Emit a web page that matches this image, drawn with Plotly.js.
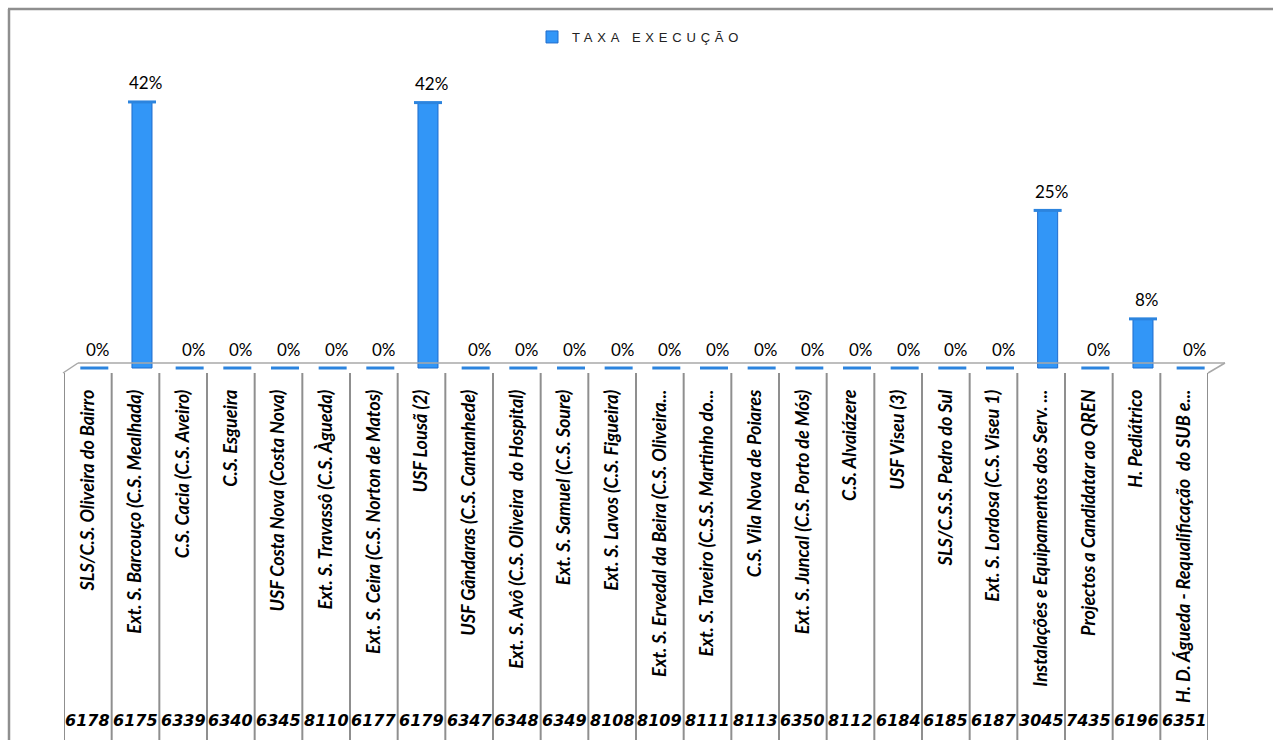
<!DOCTYPE html>
<html><head><meta charset="utf-8">
<script src="https://cdn.plot.ly/plotly-3.0.1.min.js"></script>
<style>html,body{margin:0;padding:0;background:#fff;overflow:hidden}#chart{width:1273px;height:740px}</style>
</head><body><div id="chart"></div>
<script>
// ---- data ----
const codes = ['6178','6175','6339','6340','6345','8110','6177','6179','6347','6348','6349','8108','8109','8111','8113','6350','8112','6184','6185','6187','3045','7435','6196','6351'];
const names = ['SLS/C.S. Oliveira do Bairro','Ext. S. Barcouço (C.S. Mealhada)','C.S. Cacia (C.S. Aveiro)','C.S. Esgueira','USF Costa Nova (Costa Nova)','Ext. S. Travassô (C.S. Àgueda)','Ext. S. Ceira (C.S. Norton de Matos)','USF Lousã (2)','USF Gândaras (C.S. Cantanhede)','Ext. S. Avô (C.S. Oliveira  do Hospital)','Ext. S. Samuel (C.S. Soure)','Ext. S. Lavos (C.S. Figueira)','Ext. S. Ervedal da Beira (C.S. Oliveira...','Ext. S. Taveiro (C.S.S. Martinho do...','C.S. Vila Nova de Poiares','Ext. S. Juncal (C.S. Porto de Mós)','C.S. Alvaiázere','USF Viseu (3)','SLS/C.S.S. Pedro do Sul','Ext. S. Lordosa (C.S. Viseu 1)','Instalações e Equipamentos dos Serv. ...','Projectos a Candidatar ao QREN','H. Pediátrico','H. D. Águeda - Requalificação  do SUB e...'];
const taxaExecucao = [0,0.417,0,0,0,0,0,0.416,0,0,0,0,0,0,0,0,0,0,0,0,0.247,0,0.077,0];
const seriesName = 'TAXA EXECUÇÃO';

// ---- geometry ----
const W=1273,H=740,L=64,R=65,T=60,B=367;
const pw=W-L-R, ph=H-T-B;
const zeroPx=5, pxPerUnit=638;
const yr=[-zeroPx/pxPerUnit,(ph-zeroPx)/pxPerUnit];
const n=names.length;
const shift=0.136;           // depth offset of the cylinders (category units)
const idx=names.map((_,i)=>i);
const px2x=p=>(p-L)/pw;
const py2y=p=>(T+ph-p)/ph;
const grid='#8f8f8f';
const pct=v=>Math.round(v*100)+'%';

const data=[
 {type:'bar',x:names,y:taxaExecucao,name:seriesName,width:0.42,offset:-0.21+shift,
  marker:{color:'#3296f7',line:{color:'#1f6ccc',width:1}},hoverinfo:'x+y',cliponaxis:false},
 {type:'scatter',mode:'markers',x:idx,y:taxaExecucao,xaxis:'x2',showlegend:false,hoverinfo:'skip',
  marker:{symbol:'line-ew',size:20,line:{width:3,color:'#2c84de'}},cliponaxis:false}
];

const shapes=[];
// chart border (left & top)
shapes.push({type:'line',xref:'paper',yref:'paper',x0:px2x(9),x1:px2x(9),y0:py2y(9),y1:py2y(H+2),line:{color:grid,width:2.5}});
shapes.push({type:'line',xref:'paper',yref:'paper',x0:px2x(8),x1:px2x(W+2),y0:py2y(9),y1:py2y(9),line:{color:grid,width:2.5}});
// floor
const fl='#a8a8a8';
shapes.push({type:'line',xref:'paper',yref:'paper',x0:px2x(L+14),x1:px2x(W-R+17),y0:py2y(363),y1:py2y(363),line:{color:fl,width:1.5}});
shapes.push({type:'line',xref:'paper',yref:'paper',x0:px2x(L-1),x1:px2x(L+14),y0:py2y(T+ph),y1:py2y(363),line:{color:fl,width:1.5}});
shapes.push({type:'line',xref:'paper',yref:'paper',x0:px2x(W-R),x1:px2x(W-R+17),y0:py2y(T+ph),y1:py2y(363),line:{color:fl,width:1.5}});
// category table dividers
for(let i=0;i<=n;i++){
  shapes.push({type:'line',xref:'x',yref:'paper',x0:i-0.5,x1:i-0.5,y0:0,y1:py2y(H+2),line:{color:grid,width:2}});
}

const annotations=[];
taxaExecucao.forEach((v,i)=>{
  annotations.push({xref:'x2',yref:'y',x:i,y:v,text:pct(v),showarrow:false,yshift:19,xshift:4,
    font:{family:'Lato',size:17,color:'#000'}});
});
codes.forEach((c,i)=>{
  annotations.push({xref:'x',yref:'paper',x:names[i],y:py2y(721),yanchor:'middle',text:c,showarrow:false,
    font:{family:'DejaVu Sans',size:16,color:'#000',weight:'bold',style:'italic'}});
});

const layout={
  width:W,height:H,margin:{l:L,r:R,t:T,b:B},
  paper_bgcolor:'#fff',plot_bgcolor:'rgba(0,0,0,0)',
  showlegend:true,
  legend:{orientation:'h',x:px2x(532),xanchor:'left',y:py2y(37),yanchor:'middle',
    font:{family:'Liberation Sans',size:13,color:'#222'},bgcolor:'rgba(0,0,0,0)'},
  xaxis:{type:'category',range:[-0.5,n-0.5],tickangle:-90,showgrid:false,zeroline:false,showline:false,
    ticks:'',ticklabelstandoff:12,automargin:false,
    tickfont:{family:'Lato',size:18,color:'#000',weight:'bold',style:'italic'}},
  xaxis2:{overlaying:'x',type:'linear',range:[-0.5-shift,n-0.5-shift],visible:false},
  yaxis:{range:yr,visible:false,fixedrange:true},
  shapes:shapes,annotations:annotations,bargap:0
};
Plotly.newPlot('chart',data,layout,{staticPlot:true}).then(()=>{
  document.querySelectorAll('#chart .legend [clip-path]').forEach(e=>e.removeAttribute('clip-path'));
  document.querySelectorAll('#chart .legendtext').forEach(t=>{t.style.letterSpacing='4.8px';});
});
</script></body></html>
